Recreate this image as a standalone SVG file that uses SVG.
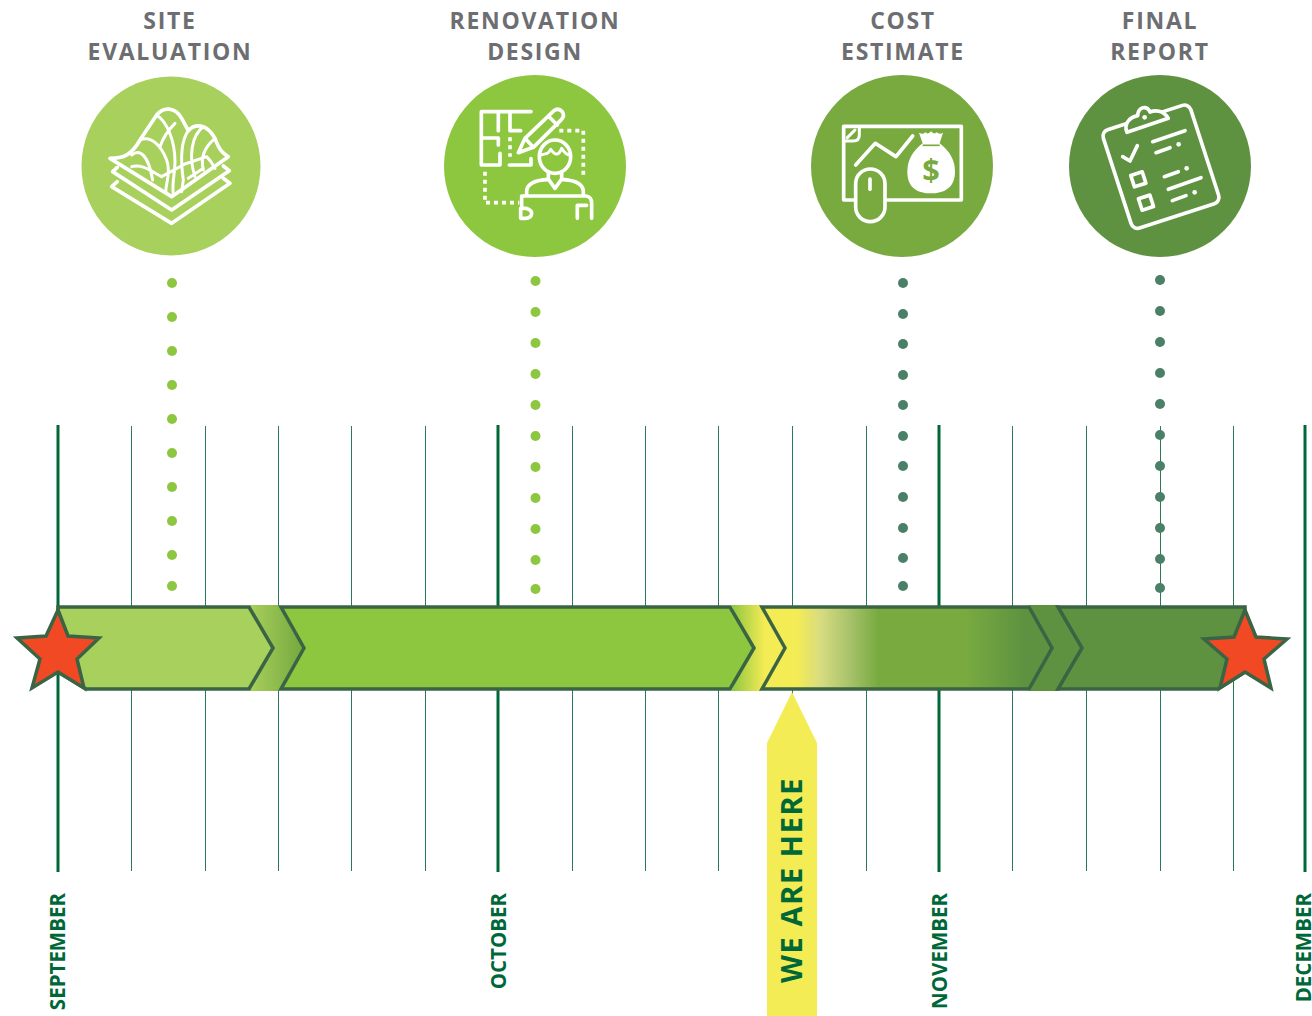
<svg xmlns="http://www.w3.org/2000/svg" width="1312" height="1016" viewBox="0 0 1312 1016">
<style>
.t{font-family:"Open Sans","Liberation Sans",sans-serif;font-weight:700}
.title{font-size:23px;fill:#6d6e71;text-anchor:middle;letter-spacing:1.7px}
.month{font-size:20.5px;fill:#006838;text-anchor:end}
.major{stroke:#006838;stroke-width:3;fill:none}
.minor{stroke:#2a7a5a;stroke-width:1;fill:none}
.bar{stroke:#3a6444;stroke-width:3.5;stroke-linejoin:miter}
.ic{fill:none;stroke:#fff;stroke-width:11;stroke-linecap:round;stroke-linejoin:round}
.th{stroke-width:9}
.dash{stroke-linecap:butt;stroke-dasharray:12 12}
.wf{fill:#fff;stroke:none}
</style>
<defs>
<linearGradient id="b1" gradientUnits="userSpaceOnUse" x1="249" x2="300" y1="0" y2="0"><stop offset="0" stop-color="#a8d05c"/><stop offset="1" stop-color="#78aa40"/></linearGradient>
<linearGradient id="b2" gradientUnits="userSpaceOnUse" x1="731" x2="765" y1="0" y2="0"><stop offset="0" stop-color="#8dc63f"/><stop offset="1" stop-color="#f4ec55"/></linearGradient>
<linearGradient id="b3" gradientUnits="userSpaceOnUse" x1="762" x2="1053" y1="0" y2="0"><stop offset=".12" stop-color="#f4ec55"/><stop offset=".2" stop-color="#d8dc80"/><stop offset=".3" stop-color="#a9c26c"/><stop offset=".4" stop-color="#78aa40"/><stop offset=".7" stop-color="#78aa40"/><stop offset=".9" stop-color="#5e9240"/></linearGradient>
</defs>
<g id="grid">
<path class="minor" d="M131.500 426V871M205.500 426V871M278.500 426V871M351.500 426V871M425.500 426V871M572.500 426V871M645.500 426V871M718.500 426V871M792.500 426V871M866.500 426V871M1012.500 426V871M1086.500 426V871M1160.500 426V871M1233.500 426V871"/>
<path class="major" d="M58 425V872M498 425V872M939 425V872M1305 425V872"/>
</g>
<g id="dots-1" fill="#8dc63f"><circle cx="172" cy="283" r="5"/><circle cx="172" cy="317" r="5"/><circle cx="172" cy="351" r="5"/><circle cx="172" cy="385" r="5"/><circle cx="172" cy="419" r="5"/><circle cx="172" cy="453" r="5"/><circle cx="172" cy="487" r="5"/><circle cx="172" cy="521" r="5"/><circle cx="172" cy="555" r="5"/><circle cx="172" cy="586" r="5"/></g>
<g id="dots-2" fill="#8dc63f"><circle cx="535.500" cy="281" r="5"/><circle cx="535.500" cy="312" r="5"/><circle cx="535.500" cy="343" r="5"/><circle cx="535.500" cy="374" r="5"/><circle cx="535.500" cy="405" r="5"/><circle cx="535.500" cy="436" r="5"/><circle cx="535.500" cy="467" r="5"/><circle cx="535.500" cy="498" r="5"/><circle cx="535.500" cy="529" r="5"/><circle cx="535.500" cy="560" r="5"/><circle cx="535.500" cy="589" r="5"/></g>
<g id="dots-3" fill="#4a8068"><circle cx="903" cy="283" r="5"/><circle cx="903" cy="314" r="5"/><circle cx="903" cy="344" r="5"/><circle cx="903" cy="375" r="5"/><circle cx="903" cy="405" r="5"/><circle cx="903" cy="436" r="5"/><circle cx="903" cy="466" r="5"/><circle cx="903" cy="497" r="5"/><circle cx="903" cy="528" r="5"/><circle cx="903" cy="558" r="5"/><circle cx="903" cy="586" r="5"/></g>
<g id="dots-4" fill="#4a8068"><circle cx="1160" cy="280" r="5"/><circle cx="1160" cy="311" r="5"/><circle cx="1160" cy="342" r="5"/><circle cx="1160" cy="373" r="5"/><circle cx="1160" cy="404" r="5"/><circle cx="1160" cy="435" r="5"/><circle cx="1160" cy="466" r="5"/><circle cx="1160" cy="497" r="5"/><circle cx="1160" cy="528" r="5"/><circle cx="1160" cy="559" r="5"/><circle cx="1160" cy="588" r="5"/></g>

<g id="phase-bar">
<path fill="url(#b1)" d="M249 605H279L304 648L279 691H249L273 648Z"/>
<path fill="url(#b2)" d="M731 605H761L786 648L761 691H731L754 648Z"/>
<path fill="#5e9240" d="M1029 605H1059L1083 648L1059 691H1029L1053 648Z"/>
<path class="bar" fill="#a8d05c" d="M58 607H249L273 648L249 689H86L58 672Z"/>
<path class="bar" fill="#8dc63f" d="M281 607H730L754 648L730 689H281L304 648Z"/>
<path class="bar" fill="url(#b3)" d="M762 607H1029L1052 648L1029 689H762L785 648Z"/>
<path class="bar" fill="#5e9240" d="M1058 607H1245V672L1218 689H1058L1082 648Z"/>
</g>
<g id="start-star"><path fill="#f04923" stroke="#3a6444" stroke-width="3.5" d="M58 610L68 636L99 638L77 659L84 688L58 672L32 688L40 659L17 638L46 636Z"/></g>
<g id="end-star"><path fill="#f04923" stroke="#3a6444" stroke-width="3.5" d="M1245 610L1256 637L1287 639L1264 659L1271 688L1245 672L1220 688L1227 659L1204 639L1234 637Z"/></g>

<g id="we-are-here">
<path fill="#f4ec55" d="M792 692L817 743V1016H767V743Z"/>
<text class="t" transform="translate(802 880) rotate(-90)" font-size="29" letter-spacing="1.6" fill="#006838" text-anchor="middle">WE ARE HERE</text>
</g>

<g id="node-site-evaluation">
<text class="t title" x="170" y="29">SITE</text>
<text class="t title" x="170" y="60">EVALUATION</text>
<circle cx="171" cy="166" r="89.5" fill="#a8d05c"/>
<g transform="translate(60 60) scale(.3333)">
<path class="ic" d="M172 365L155 380L335 490L510 370L490 355M172 322L158 335L335 450L508 332L490 318"/>
<path class="ic" d="M150 295L335 410L505 290C490 280 480 275 465 235C440 190 405 190 385 212L365 175C345 140 310 140 290 165L240 240C215 285 190 295 150 295Z"/>
<path class="ic th" d="M215 285C240 265 265 285 278 360M240 240C275 225 305 260 320 300C335 340 315 375 318 395M290 165C320 185 345 240 345 305C345 345 335 365 340 405M345 190C325 210 310 230 300 260M385 212C365 240 360 290 370 360L365 395M430 200C395 225 385 290 405 350M465 235C435 260 420 290 430 330M215 320C245 310 275 335 305 350L375 312L440 290C450 300 460 315 465 325M385 355L430 325"/>
</g>
</g>

<g id="node-renovation-design">
<text class="t title" x="535" y="29">RENOVATION</text>
<text class="t title" x="535" y="60">DESIGN</text>
<circle cx="535" cy="166" r="91" fill="#8dc63f"/>
<g transform="translate(430 60) scale(.3333)">
<path class="ic" d="M303 155H154V315H210V280M205 158V212M156 234H205V255M240 158V212H272M238 315H303V296"/>
<path class="ic dash" d="M240 232V290"/>
<path class="ic" d="M265 278L285 235L372 152Q385 142 397 155Q405 167 395 178L310 262ZM285 235L310 262M355 168L382 195"/>
<path class="ic dash" d="M388 212H460V352M165 335V428H268"/>
<ellipse class="ic" cx="375" cy="290" rx="47" ry="50"/>
<path class="ic th" d="M332 285C345 280 355 285 362 268C375 285 385 290 395 265C405 282 415 285 420 285"/>
<path class="ic" d="M355 335V357L375 385L395 357V335M290 405V395C290 370 320 360 355 358M395 358C430 360 460 370 460 395V405M275 408H468Q485 410 485 430V475M470 436H442V475M275 408V440M272 445H288Q305 450 305 460Q305 475 285 475H272Z"/>
</g>
</g>

<g id="node-cost-estimate">
<text class="t title" x="903" y="29">COST</text>
<text class="t title" x="903" y="60">ESTIMATE</text>
<circle cx="902" cy="166" r="91" fill="#78aa40"/>
<g transform="translate(800 60) scale(.3333)">
<rect class="ic" x="131" y="199" width="353" height="221"/>
<path class="ic th" d="M178 200V225Q178 243 160 243H133M142 233L165 210"/>
<path class="ic" d="M167 315L226 250L288 290L338 228"/>
<rect class="ic" x="167" y="327" width="88" height="158" rx="44" style="fill:#78aa40"/>
<path class="ic" d="M210 357V388"/>
<path class="wf" d="M357 218Q370 225 376 217Q385 225 393 214Q403 225 410 217Q418 225 429 218L419 250Q465 285 465 335C465 385 430 400 393 400C355 400 322 385 322 335Q322 285 368 250Z"/>
<path d="M368 256H419" stroke="#78aa40" stroke-width="5" fill="none"/>
<text class="t" x="393" y="364" font-size="92" font-weight="600" fill="#78aa40" text-anchor="middle">$</text>
</g>
</g>

<g id="node-final-report">
<text class="t title" x="1160" y="29">FINAL</text>
<text class="t title" x="1160" y="60">REPORT</text>
<circle cx="1160" cy="166" r="91" fill="#5e9240"/>
<g transform="translate(1055 60) scale(.3333)">
<rect class="ic" x="180" y="165" width="276" height="310" rx="20" transform="rotate(-18 318 320)"/>
<path class="ic" style="fill:#5e9240" d="M216 217L340 175C325 150 300 150 285 156C275 135 250 140 248 167C225 172 205 190 216 217Z"/>
<circle class="wf" cx="269" cy="172" r="7"/>
<path class="ic" d="M293 245L390 212M303 278L345 263M203 290L225 303L247 257M328 350L370 335M340 388L438 353M352 422L393 407"/>
<circle class="wf" cx="371" cy="253" r="7"/><circle class="wf" cx="395" cy="325" r="7"/><circle class="wf" cx="419" cy="397" r="7"/>
<rect class="ic" x="232" y="340" width="36" height="36" transform="rotate(-18 250 358)"/>
<rect class="ic" x="255" y="410" width="36" height="36" transform="rotate(-18 273 428)"/>
</g>
</g>

<g id="months">
<text class="t month" transform="translate(65 893) rotate(-90)">SEPTEMBER</text>
<text class="t month" transform="translate(506 893) rotate(-90)">OCTOBER</text>
<text class="t month" transform="translate(947 893) rotate(-90)">NOVEMBER</text>
<text class="t month" transform="translate(1311 893) rotate(-90)">DECEMBER</text>
</g>
</svg>
